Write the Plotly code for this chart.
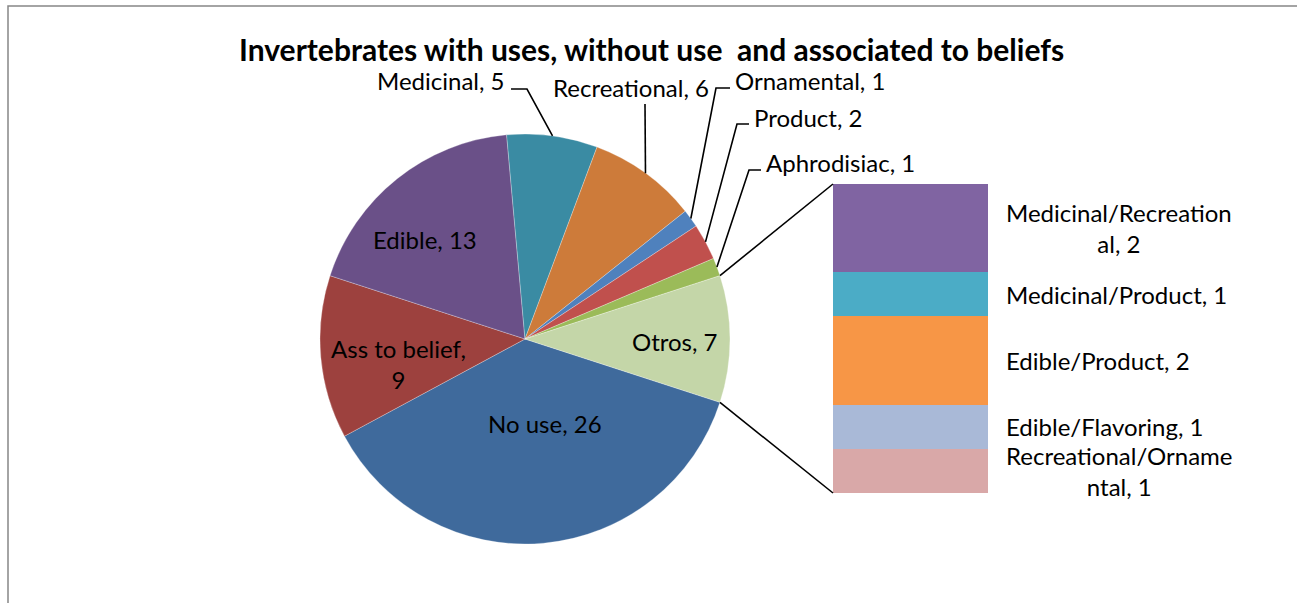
import math
import plotly.graph_objects as go

# ---------------- data ----------------
main_labels = ["No use", "Ass to belief", "Edible", "Medicinal", "Recreational",
               "Ornamental", "Product", "Aphrodisiac", "Otros"]
main_values = [26, 9, 13, 5, 6, 1, 2, 1, 7]
main_colors = ["#3F6A9C", "#9D413E", "#6A5088", "#3A8BA3", "#CD7B3A",
               "#4F81BD", "#C0504D", "#9BBB59", "#C4D6A8"]

sub_labels = ["Medicinal/Recreational", "Medicinal/Product", "Edible/Product",
              "Edible/Flavoring", "Recreational/Ornamental"]
sub_values = [2, 1, 2, 1, 1]
sub_colors = ["#8064A2", "#4BACC6", "#F79646", "#A9B9D7", "#D9A8A8"]

title_text = "Invertebrates with uses, without use\u00a0 and associated to beliefs"

# ---------------- layout helpers (pixels) ----------------
W, H = 1297, 603
FONT = "Lato"
LBL = 24


def px(x):
    return x / W


def py(y):
    return 1 - y / H


CX, CY, R = 525, 339, 205          # pie centre / radius in pixels
ROT = 108                          # start angle, clockwise from 12 o'clock
BAR_X0, BAR_X1, BAR_Y0, BAR_Y1 = 833, 988, 184, 493

fig = go.Figure()

fig.add_trace(go.Pie(
    labels=main_labels, values=main_values, sort=False,
    direction="clockwise", rotation=ROT,
    marker=dict(colors=main_colors, line=dict(color="rgba(255,255,255,0.45)", width=0.6)),
    textinfo="none", hoverinfo="label+value", showlegend=False,
    domain=dict(x=[px(CX - R), px(CX + R)], y=[py(CY + R), py(CY - R)]),
))

# stacked bar (secondary plot): bottom segment first
for lab, val, col in reversed(list(zip(sub_labels, sub_values, sub_colors))):
    fig.add_trace(go.Bar(x=[0], y=[val], name=lab, marker=dict(color=col, line=dict(width=0)),
                         width=1, xaxis="x2", yaxis="y2", showlegend=False))

total = sum(main_values)
sub_total = sum(sub_values)


def slice_angles(i):
    start = ROT + 360 * sum(main_values[:i]) / total
    end = start + 360 * main_values[i] / total
    return start, end


def arc_point(theta):
    t = math.radians(theta)
    return CX + R * math.sin(t), CY - R * math.cos(t)


annotations = []
shapes = []


def line_path(pts):
    d = "M " + " L ".join(f"{px(x):.5f},{py(y):.5f}" for x, y in pts)
    return dict(type="path", path=d, xref="paper", yref="paper",
                line=dict(color="black", width=1.6))


# inside labels: (text position in px)
inside_pos = {
    "Edible": (425, 239),
    "Ass to belief": (398, 364),
    "No use": (545, 423),
    "Otros": (675, 341),
}
inside_wrap = {"Ass to belief": "Ass to belief,<br>{v}"}

# outside labels: text anchor point, xanchor, leader start points
outside_spec = {
    "Medicinal": ((507, 80), "right", [(511, 89), (527, 89)]),
    "Recreational": ((631, 87), "center", [(645, 104)]),
    "Ornamental": ((733, 80), "left", [(730, 88), (716, 88)]),
    "Product": ((752, 117), "left", [(749, 124), (737, 124)]),
    "Aphrodisiac": ((764, 162), "left", [(761, 170), (749, 170)]),
}

for i, (lab, val) in enumerate(zip(main_labels, main_values)):
    s, e = slice_angles(i)
    if lab in inside_pos:
        x, y = inside_pos[lab]
        txt = inside_wrap.get(lab, "{l}, {v}").format(l=lab, v=val)
        annotations.append(dict(x=px(x), y=py(y), xref="paper", yref="paper", text=txt,
                                showarrow=False, xanchor="center", yanchor="middle",
                                align="center", font=dict(family=FONT, size=LBL, color="black")))
    elif lab in outside_spec:
        (x, y), xa, pts = outside_spec[lab]
        annotations.append(dict(x=px(x), y=py(y), xref="paper", yref="paper",
                                text=f"{lab}, {val}", showarrow=False, xanchor=xa,
                                yanchor="middle", font=dict(family=FONT, size=LBL, color="black")))
        shapes.append(line_path(pts + [arc_point((s + e) / 2)]))

# connector lines from "Otros" slice to the bar
io = main_labels.index("Otros")
s, e = slice_angles(io)
shapes.append(line_path([arc_point(s), (BAR_X0, BAR_Y0)]))
shapes.append(line_path([arc_point(e), (BAR_X0, BAR_Y1)]))

# bar labels
bar_wrap = {"Medicinal/Recreational": 20, "Recreational/Ornamental": 19}
cum = 0
for lab, val in reversed(list(zip(sub_labels, sub_values))):
    mid = cum + val / 2
    cum += val
    full = f"{lab}, {val}"
    if lab in bar_wrap:
        k = bar_wrap[lab]
        full = full[:k] + "<br>" + full[k:]
    annotations.append(dict(x=px(1004), y=mid, xref="paper", yref="y2", text=full,
                            showarrow=False, xanchor="left", yanchor="middle", align="center",
                            font=dict(family=FONT, size=LBL, color="black")))

# title
annotations.append(dict(x=px(651), y=py(49), xref="paper", yref="paper", text=f"<b>{title_text}</b>",
                        showarrow=False, xanchor="center", yanchor="middle",
                        font=dict(family=FONT, size=30, color="black")))

# chart border (top and left visible)
shapes.append(dict(type="rect", xref="paper", yref="paper", x0=px(8), y0=py(6), x1=px(1320), y1=py(640),
                   line=dict(color="#868686", width=1.5), layer="below"))

fig.update_layout(
    width=W, height=H, margin=dict(l=0, r=0, t=0, b=0),
    paper_bgcolor="white", plot_bgcolor="white",
    barmode="stack", bargap=0,
    xaxis2=dict(domain=[px(BAR_X0), px(BAR_X1)], range=[-0.5, 0.5], visible=False, anchor="y2",
                fixedrange=True),
    yaxis2=dict(domain=[py(BAR_Y1), py(BAR_Y0)], range=[0, sub_total], visible=False, anchor="x2",
                fixedrange=True),
    annotations=annotations, shapes=shapes,
    font=dict(family=FONT, color="black"),
)

fig.write_html("out.html")
